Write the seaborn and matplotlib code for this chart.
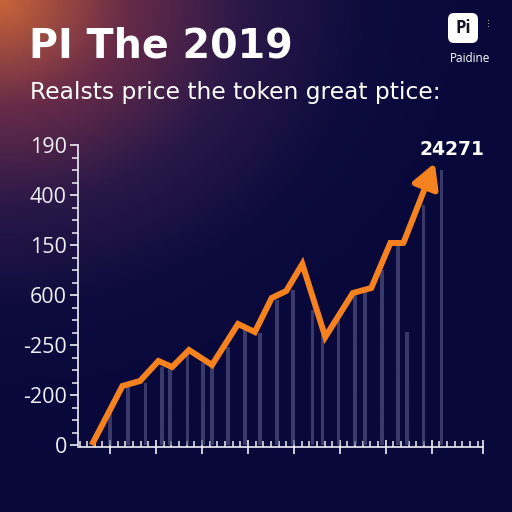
import numpy as np
import pandas as pd
import matplotlib
matplotlib.use("Agg")
import matplotlib.pyplot as plt
import seaborn as sns
from matplotlib.colors import LinearSegmentedColormap
from matplotlib.patches import FancyBboxPatch
from matplotlib.ticker import MultipleLocator

# price line (x in minor-tick units, y in tick-step units)
line_x = [3.6, 7.6, 9.9, 12.3, 14.1, 16.3, 19.3, 22.7, 24.9, 27.1, 29.0, 31.1, 34.1, 37.7, 40.1, 42.6, 44.3]
line_y = [0.0, 1.18, 1.28, 1.68, 1.56, 1.9, 1.6, 2.42, 2.26, 2.94, 3.08, 3.62, 2.16, 3.04, 3.14, 4.04, 4.04]
arrow_tip = (48.4, 5.64)

# faint volume bars
bar_x = [6.0, 8.35, 10.6, 12.8, 13.8, 16.1, 18.1, 19.3, 21.4, 23.6, 25.6, 27.8, 29.9,
         32.4, 33.7, 35.8, 38.0, 39.3, 41.5, 43.6, 44.8, 46.9, 49.3]
bar_h = [0.64, 1.16, 1.24, 1.56, 1.54, 1.84, 1.64, 1.56, 1.96, 2.36, 2.24, 2.9, 3.1,
         2.7, 2.24, 2.5, 3.04, 3.1, 3.5, 4.04, 2.26, 4.8, 5.5]

ytick_pos = [0, 1, 2, 3, 4, 5, 6]
ytick_labels = ["0", "-200", "-250", "600", "150", "400", "190"]
xtick_pos = [6, 12, 18, 24, 30, 36, 42, 48]

title = "PI The 2019"
subtitle = "Realsts price the token great ptice:"
last_label = "24271"
brand = "Paidine"

sns.set_theme(style="ticks")
plt.rcParams["font.family"] = ["Open Sans", "DejaVu Sans"]

fig = plt.figure(figsize=(5.12, 5.12), dpi=100)

# background gradient
bg = fig.add_axes([0, 0, 1, 1], zorder=-5)
gx, gy = np.meshgrid(np.linspace(0, 1, 300), np.linspace(0, 1, 300))
d = np.sqrt((gx / 0.95) ** 2 + (gy / 0.8) ** 2)
cmap = LinearSegmentedColormap.from_list(
    "bg", [(0, "#c8643a"), (0.25, "#6a2c48"), (0.5, "#2a1848"), (0.75, "#0e0c3e"), (1, "#08083a")])
bg.imshow(np.clip(d, 0, 1), cmap=cmap, vmin=0, vmax=1, aspect="auto", extent=[0, 1, 1, 0])
bg.set_axis_off()

ax = fig.add_axes([78 / 512, 1 - 447 / 512, (483 - 78) / 512, (447 - 135) / 512])
ax.set_facecolor("none")

df_bars = pd.DataFrame({"x": bar_x, "h": bar_h})
sns.barplot(data=df_bars, x="x", y="h", native_scale=True, width=0.45,
            color="#4c4c8c", alpha=0.65, linewidth=0, edgecolor="none", ax=ax, zorder=1)

df_line = pd.DataFrame({"x": line_x, "y": line_y})
sns.lineplot(data=df_line, x="x", y="y", color="#f5821f", linewidth=4.3, ax=ax,
             zorder=3, solid_joinstyle="miter", solid_capstyle="butt")
ax.annotate("", xy=arrow_tip, xytext=(line_x[-1], line_y[-1]),
            arrowprops=dict(arrowstyle="-|>,head_length=0.9,head_width=0.5",
                            color="#f5821f", lw=4.3, mutation_scale=16,
                            shrinkA=0, shrinkB=0), zorder=4)
ax.text(50.6, 5.92, last_label, color="white", fontsize=13.5,
        fontweight="bold", ha="center", va="center", family=["DejaVu Sans"])

ax.set_xlim(1.8, 54.7)
ax.set_ylim(-0.04, 6.2)
ax.set_xlabel("")
ax.set_ylabel("")
ax.set_yticks(ytick_pos)
ax.set_yticklabels(ytick_labels)
ax.set_xticks(xtick_pos + [54.7])
ax.set_xticklabels([])
ax.xaxis.set_minor_locator(MultipleLocator(1))
ax.yaxis.set_minor_locator(MultipleLocator(0.25))
for s in ["top", "right"]:
    ax.spines[s].set_visible(False)
for s in ["left", "bottom"]:
    ax.spines[s].set_color("#eeeef5")
    ax.spines[s].set_linewidth(1.2)
ax.spines["left"].set_bounds(0, 6)
ax.tick_params(axis="y", which="major", direction="out", length=6, width=1.2,
               colors="#eeeef5", labelsize=15.5, pad=2)
ax.tick_params(axis="y", which="minor", direction="out", length=4, width=1.1, colors="#eeeef5")
ax.tick_params(axis="x", which="major", direction="inout", length=10, width=1.2, colors="#eeeef5")
ax.tick_params(axis="x", which="minor", direction="in", length=4, width=1.1, colors="#eeeef5")

fig.text(29 / 512, 1 - 58 / 512, title, color="white", fontsize=28.5, fontweight="bold",
         family=["DejaVu Sans"], ha="left", va="baseline")
fig.text(30 / 512, 1 - 99 / 512, subtitle, color="white", fontsize=16.8,
         family=["DejaVu Sans"], ha="left", va="baseline")

# logo
logo = FancyBboxPatch((448 / 512, 1 - 43 / 512), 30 / 512, 30 / 512,
                      boxstyle="round,pad=0,rounding_size=0.012",
                      transform=fig.transFigure, facecolor="white", edgecolor="none")
fig.patches.append(logo)
fig.text(463 / 512, 1 - 28 / 512, "Pi", color="#111122", fontsize=12, fontweight="bold",
         ha="center", va="center")
fig.text(488 / 512, 1 - 26 / 512, "⁝", color="#c8d060", fontsize=7, ha="center", va="center")
fig.text(470 / 512, 1 - 59 / 512, brand, color="white", fontsize=8.5, ha="center", va="center")

fig.savefig("out.png", dpi=100)
